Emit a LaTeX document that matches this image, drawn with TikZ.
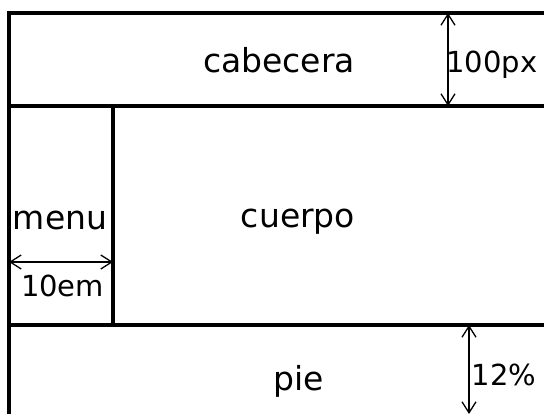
\documentclass[tikz,border=0pt]{standalone}
\usepackage{fontspec}
\setmainfont{DejaVu Sans}
\usetikzlibrary{arrows.meta}
\tikzset{
  box/.style={draw=black, line width=4.5pt},
  dim/.style={draw=black, line width=1.3pt, {Straight Barb[length=11pt,width=14pt,line width=1.3pt]}-{Straight Barb[length=11pt,width=14pt,line width=1.3pt]}},
  lbl/.style={inner sep=0pt, anchor=base, font=\fontsize{33}{36}\selectfont},
  dlbl/.style={inner sep=0pt, anchor=base, font=\fontsize{29}{32}\selectfont},
}
\begin{document}
\begin{tikzpicture}[x=1pt,y=-1pt]
\useasboundingbox (0,0) rectangle (544,414);
\fill[white] (0,0) rectangle (544,414);
\clip (0,0) rectangle (544,414);
% boxes
\draw[box] (9,13) rectangle (570,440);
\draw[box] (9,106) -- (570,106);
\draw[box] (9,325) -- (570,325);
\draw[box] (113,106) -- (113,325);
% labels
\node[lbl] (cab) at (279,73) {cabecera};
\node[lbl] (cue) at (298,228) {cuerpo};
\node[lbl] (pie) at (298.5,390) {pie};
\node[lbl] (men) at (60,230) {menu};
\node[dlbl] (hpx) at (492,73) {100px};
\node[dlbl] (wem) at (62.5,297) {10em};
\node[dlbl] (fpc) at (504,385) {12\%};
% dimension arrows
\coordinate (h1) at (448,13);
\coordinate (h2) at (448,106);
\coordinate (w1) at (9,262);
\coordinate (w2) at (113,262);
\coordinate (f1) at (469,325);
\coordinate (f2) at (469,414);
\draw[dim] (h1) -- (h2);
\draw[dim] (w1) -- (w2);
\draw[dim] (f1) -- (f2);
\end{tikzpicture}
\end{document}
